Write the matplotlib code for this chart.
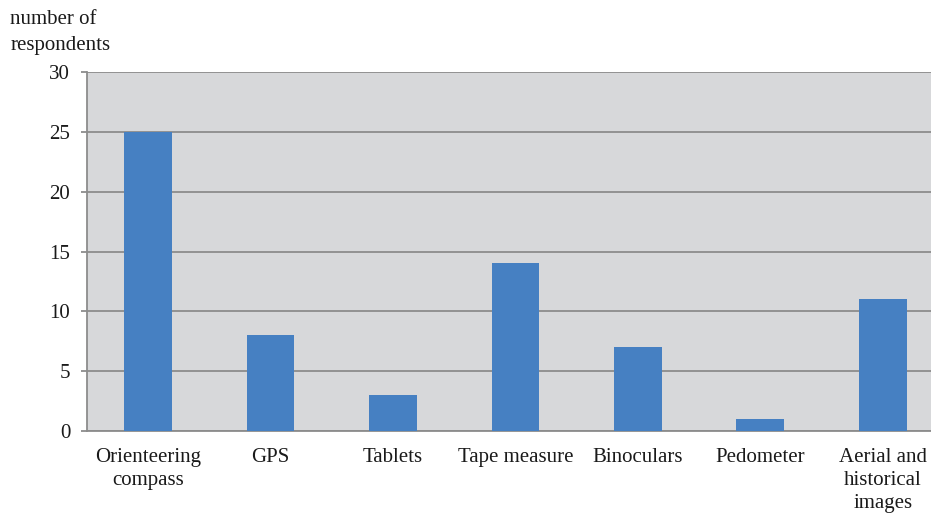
import matplotlib
matplotlib.use("Agg")
import matplotlib.pyplot as plt
import numpy as np

categories = ["Orienteering\ncompass", "GPS", "Tablets", "Tape measure",
              "Binoculars", "Pedometer", "Aerial and\nhistorical\nimages"]
respondents = [25, 8, 3, 14, 7, 1, 11]
y_ticks = [0, 5, 10, 15, 20, 25, 30]

plt.rcParams['font.family'] = ['Liberation Serif', 'DejaVu Serif']
FS = 15

fig = plt.figure(figsize=(9.31, 5.13), dpi=100)
# plot area runs a little past the right edge of the figure
ax = fig.add_axes([0.0934, 0.1598, 0.9205, 0.6998])
ax.set_facecolor('#d7d8da')

x = np.arange(len(categories))
ax.bar(x, respondents, width=0.39, color='#4680c2', zorder=3)

ax.set_xlim(-0.5, len(categories) - 0.5)
ax.set_ylim(0, 30)
ax.set_yticks(y_ticks)
ax.yaxis.grid(True, color='#8c8c8c', linewidth=1.3, zorder=1)
ax.set_axisbelow(True)

ax.set_xticks(x)
ax.set_xticklabels(categories, fontsize=FS, color='#1a1a1a', linespacing=1.3)
ax.tick_params(axis='x', length=0, pad=12)
ax.tick_params(axis='y', length=4, width=1.3, color='#8c8c8c', labelsize=FS,
               labelcolor='#1a1a1a', pad=8)

for side in ['top', 'right']:
    ax.spines[side].set_visible(False)
for side in ['left', 'bottom']:
    ax.spines[side].set_color('#8c8c8c')
    ax.spines[side].set_linewidth(1.3)

fig.text(0.011, 0.98, "number of\nrespondents", ha='left', va='top',
         fontsize=FS, color='#1a1a1a', linespacing=1.45)

fig.savefig("out.png", dpi=100)
